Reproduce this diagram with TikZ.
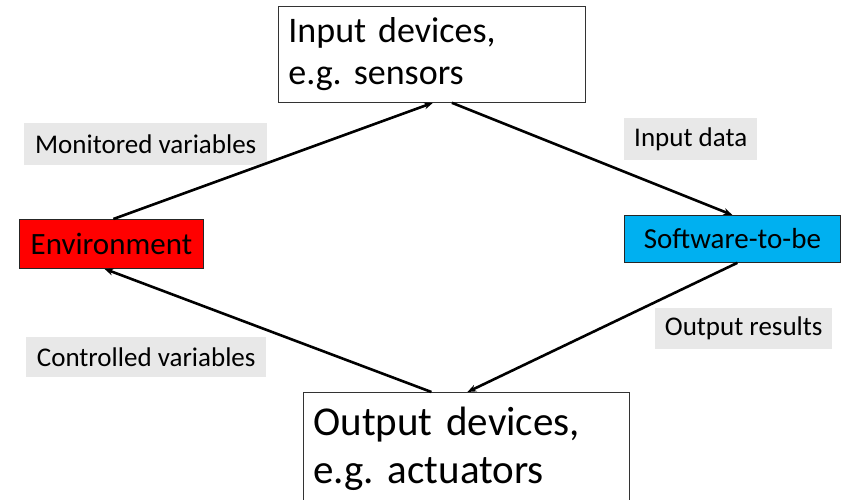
\documentclass[tikz,border=0pt]{standalone}
\usepackage{fontspec}
\setmainfont{Carlito}
\usetikzlibrary{arrows.meta}
\definecolor{envred}{HTML}{FF0000}
\definecolor{swblue}{HTML}{00B0F0}
\definecolor{labelgray}{HTML}{E8E8E8}
\frenchspacing
\begin{document}
\begin{tikzpicture}[x=1pt,y=-1pt,
  devbox/.style={draw=black!80, line width=0.8pt, fill=white, anchor=north west,
    inner xsep=10pt, inner ysep=0pt, align=left},
  partbox/.style={draw=black!85, line width=0.8pt, anchor=north west,
    inner sep=0pt, align=center},
  flowlabel/.style={fill=labelgray, anchor=north west, inner sep=0pt,
    align=center, font=\fontsize{27}{32}\selectfont},
  flow/.style={line width=2.6pt, -{Stealth[length=9pt,width=7pt]}}]
\useasboundingbox (0,0) rectangle (842,499);
\clip (0,0) rectangle (842,499);

% devices
\node[devbox, text width=287pt, minimum height=96pt,
  font=\fontsize{36}{42}\selectfont] (indev) at (278,6)
  {Input devices,\\e.g. sensors};
\node[devbox, text width=306pt, minimum height=112pt,
  font=\fontsize{41}{48}\selectfont] (outdev) at (303,392)
  {Output devices,\\e.g. actuators};

% environment and software
\node[partbox, fill=envred, minimum width=184pt, minimum height=49pt,
  font=\fontsize{31}{36}\selectfont] (env) at (19,219) {Environment};
\node[partbox, fill=swblue, minimum width=216pt, minimum height=47pt,
  font=\fontsize{29}{34}\selectfont] (sw) at (624,215) {Software-to-be};

% flow labels
\node[flowlabel, minimum width=243pt, minimum height=42pt] (mon) at (24,123) {Monitored variables};
\node[flowlabel, minimum width=133pt, minimum height=42pt] (indata) at (624,118) {Input data};
\node[flowlabel, minimum width=240pt, minimum height=40pt] (ctrl) at (26,337) {Controlled variables};
\node[flowlabel, minimum width=177pt, minimum height=41pt] (outres) at (655,308) {Output results};

% connectors
\draw[flow] ([xshift=2pt]env.north) -- ([xshift=1pt]indev.south);
\draw[flow] ([xshift=20pt]indev.south) -- (sw.north);
\draw[flow] ([xshift=5pt]sw.south) -- ([xshift=1pt]outdev.north);
\draw[flow] ([xshift=-35pt]outdev.north) -- ([xshift=-7pt]env.south);
\end{tikzpicture}
\end{document}
